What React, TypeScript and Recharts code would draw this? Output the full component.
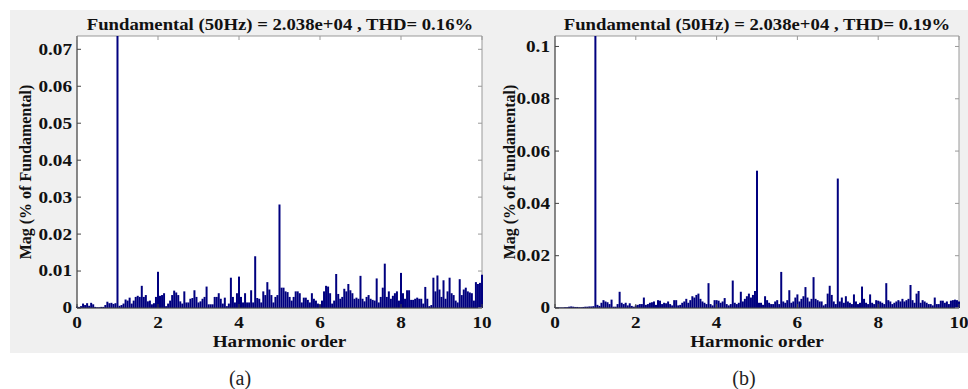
import React from 'react';
import { BarChart, Bar, XAxis, YAxis, ReferenceArea } from 'recharts';

const SERIF = "'Liberation Serif', 'Times New Roman', serif";
const NAVY = '#00007f';

// FFT bin grid: 0 .. 10 harmonic order, 0.05 step (2.5 Hz at 50 Hz fundamental)
const harmonicOrder = Array.from({ length: 201 }, (_, i) => Math.round(i * 5) / 100);

// (a) magnitude, % of fundamental, one row per harmonic unit
const magA = [
  0.0004, 0.0003, 0.0005, 0.0012, 0.0008, 0.0013, 0.0006, 0.0014, 0.0010, 0.0003, 0.0002, 0.0002, 0.0003, 0.0003, 0.0008, 0.0017, 0.0013, 0.0014, 0.0011, 0.0013,
  100, 0.0006, 0.0008, 0.0012, 0.0023, 0.0020, 0.0028, 0.0012, 0.0020, 0.0030, 0.0033, 0.0030, 0.0060, 0.0030, 0.0035, 0.0018, 0.0020, 0.0010, 0.0013, 0.0030,
  0.0098, 0.0033, 0.0035, 0.0040, 0.0005, 0.0012, 0.0020, 0.0035, 0.0047, 0.0042, 0.0035, 0.0018, 0.0012, 0.0045, 0.0015, 0.0015, 0.0025, 0.0027, 0.0048, 0.0030,
  0.0015, 0.0018, 0.0025, 0.0030, 0.0058, 0.0010, 0.0010, 0.0010, 0.0030, 0.0030, 0.0040, 0.0025, 0.0012, 0.0028, 0.0005, 0.0012, 0.0082, 0.0030, 0.0015, 0.0040,
  0.0085, 0.0030, 0.0015, 0.0040, 0.0015, 0.0015, 0.0048, 0.0015, 0.0140, 0.0027, 0.0025, 0.0015, 0.0045, 0.0035, 0.0070, 0.0050, 0.0035, 0.0015, 0.0030, 0.0035,
  0.0280, 0.0055, 0.0055, 0.0045, 0.0043, 0.0030, 0.0020, 0.0030, 0.0045, 0.0045, 0.0040, 0.0015, 0.0028, 0.0028, 0.0022, 0.0015, 0.0040, 0.0025, 0.0020, 0.0012,
  0.0010, 0.0020, 0.0045, 0.0060, 0.0058, 0.0040, 0.0012, 0.0020, 0.0092, 0.0038, 0.0025, 0.0030, 0.0052, 0.0045, 0.0065, 0.0048, 0.0040, 0.0025, 0.0028, 0.0025,
  0.0087, 0.0025, 0.0018, 0.0030, 0.0035, 0.0025, 0.0022, 0.0020, 0.0080, 0.0015, 0.0030, 0.0055, 0.0120, 0.0030, 0.0045, 0.0025, 0.0033, 0.0040, 0.0045, 0.0020,
  0.0095, 0.0040, 0.0025, 0.0048, 0.0048, 0.0022, 0.0022, 0.0025, 0.0028, 0.0025, 0.0025, 0.0012, 0.0057, 0.0025, 0.0005, 0.0008, 0.0082, 0.0045, 0.0088, 0.0050,
  0.0030, 0.0075, 0.0025, 0.0045, 0.0082, 0.0040, 0.0035, 0.0020, 0.0015, 0.0078, 0.0035, 0.0050, 0.0055, 0.0045, 0.0042, 0.0040, 0.0020, 0.0070, 0.0065, 0.0068,
  0.0090,
];

// (b)
const magB = [
  0.0002, 0.0002, 0.0002, 0.0002, 0.0002, 0.0003, 0.0003, 0.0005, 0.0006, 0.0005, 0.0004, 0.0004, 0.0003, 0.0003, 0.0004, 0.0005, 0.0005, 0.0006, 0.0006, 0.0007,
  100, 0.0012, 0.0008, 0.0020, 0.0030, 0.0025, 0.0022, 0.0015, 0.0032, 0.0005, 0.0005, 0.0015, 0.0062, 0.0020, 0.0015, 0.0020, 0.0010, 0.0018, 0.0008, 0.0005,
  0.0010, 0.0012, 0.0015, 0.0015, 0.0040, 0.0012, 0.0015, 0.0020, 0.0022, 0.0025, 0.0012, 0.0030, 0.0028, 0.0015, 0.0020, 0.0018, 0.0025, 0.0015, 0.0010, 0.0030,
  0.0030, 0.0010, 0.0012, 0.0020, 0.0025, 0.0035, 0.0020, 0.0030, 0.0045, 0.0040, 0.0050, 0.0055, 0.0035, 0.0025, 0.0020, 0.0015, 0.0095, 0.0015, 0.0010, 0.0030,
  0.0030, 0.0028, 0.0020, 0.0025, 0.0038, 0.0015, 0.0010, 0.0015, 0.0105, 0.0020, 0.0015, 0.0020, 0.0062, 0.0025, 0.0035, 0.0045, 0.0055, 0.0040, 0.0050, 0.0065,
  0.0525, 0.0020, 0.0020, 0.0012, 0.0045, 0.0030, 0.0020, 0.0015, 0.0015, 0.0025, 0.0030, 0.0015, 0.0138, 0.0025, 0.0020, 0.0030, 0.0068, 0.0020, 0.0025, 0.0040,
  0.0052, 0.0025, 0.0035, 0.0045, 0.0080, 0.0040, 0.0025, 0.0035, 0.0118, 0.0035, 0.0030, 0.0025, 0.0025, 0.0010, 0.0015, 0.0055, 0.0085, 0.0050, 0.0025, 0.0015,
  0.0495, 0.0025, 0.0040, 0.0020, 0.0045, 0.0025, 0.0020, 0.0015, 0.0052, 0.0025, 0.0015, 0.0020, 0.0082, 0.0035, 0.0020, 0.0015, 0.0052, 0.0020, 0.0015, 0.0030,
  0.0028, 0.0025, 0.0020, 0.0015, 0.0095, 0.0030, 0.0025, 0.0015, 0.0020, 0.0025, 0.0030, 0.0025, 0.0035, 0.0025, 0.0030, 0.0035, 0.0088, 0.0030, 0.0020, 0.0055,
  0.0065, 0.0020, 0.0030, 0.0025, 0.0020, 0.0015, 0.0015, 0.0010, 0.0040, 0.0015, 0.0015, 0.0028, 0.0028, 0.0020, 0.0025, 0.0015, 0.0028, 0.0030, 0.0032, 0.0030,
  0.0025,
];

const xTicks = [0, 2, 4, 6, 8, 10];
const yTicksA = [0, 0.01, 0.02, 0.03, 0.04, 0.05, 0.06, 0.07];
const yTicksB = [0, 0.02, 0.04, 0.06, 0.08, 0.1];

const fmt = (v: number) => (v === 0 ? '0' : String(+v.toFixed(3)));

type PanelProps = {
  left: number;
  width: number;
  mag: number[];
  yMax: number;
  yTicks: number[];
  title: string;
  caption: string;
  captionX: number;
  margin: { top: number; right: number; bottom: number; left: number };
  yAxisWidth: number;
  yLabelDx: number;
};

const HEIGHT = 343;
const X_AXIS_H = 45;
const TICK_LEN = 4;

function Panel({ left, width, mag, yMax, yTicks, title, caption, captionX, margin, yAxisWidth, yLabelDx }: PanelProps) {
  const data = harmonicOrder.map((h, i) => ({ h, mag: mag[i] }));
  const plotLeft = margin.left + yAxisWidth;
  const plotRight = width - margin.right;
  const plotTop = margin.top;
  const plotBottom = HEIGHT - margin.bottom - X_AXIS_H;

  const yTick = (p: any) => {
    const { x, y, payload } = p;
    return (
      <g>
        <line x1={plotLeft} x2={plotLeft + TICK_LEN} y1={y} y2={y} stroke="#444" />
        <line x1={plotRight - TICK_LEN} x2={plotRight} y1={y} y2={y} stroke="#999" />
        <text
          transform={`translate(${x},${y}) scale(1.2,1)`}
          textAnchor="end"
          dominantBaseline="central"
          fontFamily={SERIF}
          fontWeight="bold"
          fontSize={16}
          fill="#111"
        >
          {fmt(payload.value)}
        </text>
      </g>
    );
  };

  const xTick = (p: any) => {
    const { x, payload } = p;
    return (
      <g>
        <line x1={x} x2={x} y1={plotBottom} y2={plotBottom - TICK_LEN} stroke="#444" />
        <line x1={x} x2={x} y1={plotTop} y2={plotTop + TICK_LEN} stroke="#999" />
        <text
          transform={`translate(${x},${plotBottom + 15}) scale(1.2,1)`}
          textAnchor="middle"
          dominantBaseline="central"
          fontFamily={SERIF}
          fontWeight="bold"
          fontSize={16}
          fill="#111"
        >
          {payload.value}
        </text>
      </g>
    );
  };

  const xLabel = (p: any) => {
    const vb = p.viewBox;
    return (
      <text
        transform={`translate(${vb.x + vb.width / 2},${vb.y + 34}) scale(1.2,1)`}
        textAnchor="middle"
        dominantBaseline="central"
        fontFamily={SERIF}
        fontWeight="bold"
        fontSize={16}
        fill="#111"
      >
        Harmonic order
      </text>
    );
  };

  const yLabel = (p: any) => {
    const vb = p.viewBox;
    return (
      <text
        transform={`translate(${vb.x + yLabelDx},${vb.y + vb.height / 2}) rotate(-90)`}
        textAnchor="middle"
        dominantBaseline="central"
        fontFamily={SERIF}
        fontWeight="bold"
        fontSize={16}
        fill="#111"
      >
        Mag (% of Fundamental)
      </text>
    );
  };

  return (
    <>
      <div style={{ position: 'absolute', left, top: 10 }}>
        <BarChart width={width} height={HEIGHT} data={data} margin={margin} barGap={0} barCategoryGap={0}>
          <ReferenceArea x1={0} x2={10} y1={0} y2={yMax} fill="#ffffff" fillOpacity={1} stroke="#999" ifOverflow="extendDomain" />
          <XAxis
            dataKey="h"
            type="number"
            domain={[0, 10]}
            ticks={xTicks}
            interval={0}
            tickSize={0}
            tickMargin={0}
            tick={xTick}
            axisLine={{ stroke: '#444' }}
            height={X_AXIS_H}
            label={xLabel}
          />
          <YAxis
            type="number"
            domain={[0, yMax]}
            allowDataOverflow
            ticks={yTicks}
            interval={0}
            tickSize={0}
            tickMargin={5}
            tick={yTick}
            axisLine={{ stroke: '#444' }}
            width={yAxisWidth}
            label={yLabel}
          />
          <Bar dataKey="mag" fill={NAVY} barSize={2} isAnimationActive={false} />
        </BarChart>
      </div>
      <div
        style={{
          position: 'absolute',
          left: left + plotLeft + (plotRight - plotLeft) / 2 - 260,
          width: 520,
          top: 15,
          lineHeight: '20px',
          textAlign: 'center',
          fontFamily: SERIF,
          fontWeight: 'bold',
          fontSize: 17,
          color: '#111',
          transform: 'scaleX(1.1)',
          whiteSpace: 'nowrap',
        }}
      >
        {title}
      </div>
      <div
        style={{
          position: 'absolute',
          left: captionX - 50,
          width: 100,
          top: 366,
          lineHeight: '24px',
          textAlign: 'center',
          fontFamily: SERIF,
          fontSize: 20,
          color: '#222',
        }}
      >
        {caption}
      </div>
    </>
  );
}

export default function App() {
  return (
    <div style={{ position: 'absolute', left: 0, top: 0, width: 968, height: 389, background: '#ffffff', overflow: 'hidden' }}>
      <div style={{ position: 'absolute', left: 10, top: 10, width: 958, height: 343, background: '#f0f0f0' }} />
      <Panel
        left={10}
        width={494}
        mag={magA}
        yMax={0.0736}
        yTicks={yTicksA}
        title="Fundamental (50Hz) = 2.038e+04 , THD= 0.16%"
        caption="(a)"
        captionX={240}
        margin={{ top: 26, right: 22, bottom: 0, left: 5 }}
        yAxisWidth={62}
        yLabelDx={10}
      />
      <Panel
        left={484}
        width={484}
        mag={magB}
        yMax={0.104}
        yTicks={yTicksB}
        title="Fundamental (50Hz) = 2.038e+04 , THD= 0.19%"
        caption="(b)"
        captionX={744}
        margin={{ top: 26, right: 9, bottom: 0, left: 5 }}
        yAxisWidth={66}
        yLabelDx={20}
      />
    </div>
  );
}
